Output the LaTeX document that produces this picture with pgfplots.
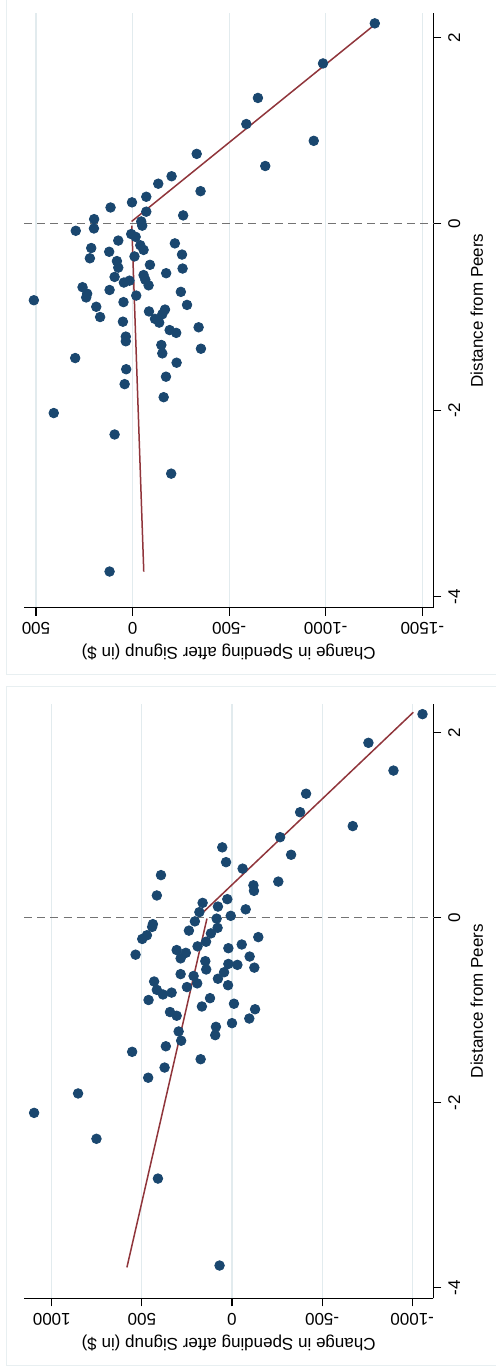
\documentclass[border=0pt]{standalone}
\usepackage{fontspec}
\setmainfont{Liberation Sans}
\usepackage{pgfplots}
\pgfplotsset{compat=1.18}
\definecolor{stnavy}{RGB}{26,71,111}
\definecolor{stmaroon}{RGB}{144,53,59}
\definecolor{stgrid}{RGB}{226,235,238}
\definecolor{stframe}{RGB}{232,239,241}
\pgfplotsset{
  panel/.style={
    scale only axis, width=204.65pt, height=297.2pt,
    x dir=reverse,
    axis x line*=bottom, axis y line*=right,
    axis line style={black, line width=0.6pt},
    tick align=outside, major tick length=4pt,
    tick style={black, line width=0.6pt},
    ytick={-4,-2,0,2},
    xmajorgrids, grid style={stgrid, line width=0.6pt},
    /pgf/number format/assume math mode=true,
    /pgf/number format/1000 sep={},
    tick label style={font=\fontsize{8.5}{10}\selectfont},
    label style={font=\fontsize{8.5}{10}\selectfont},
    xticklabel style={rotate=180, anchor=south},
    yticklabel style={rotate=90, anchor=north},
    xlabel={Change in Spending after Signup (in \$)},
    ylabel={Distance from Peers},
    xlabel style={rotate=180, anchor=south, inner sep=1pt},
    ylabel style={inner sep=1.5pt},
    anchor=center,
    clip=false,
  },
  dots/.style={only marks, mark=*, mark size=2.4pt, color=stnavy, mark options={draw=stnavy, fill=stnavy}},
  fit/.style={stmaroon, line width=0.75pt, no marks},
  zero/.style={black!55, line width=0.7pt, dash pattern=on 4pt off 2.6pt, no marks},
}
\begin{document}
\begin{tikzpicture}
\useasboundingbox (0,0) rectangle (247.5pt,-684.5pt);
\fill[white] (0,0) rectangle (247.5pt,-684.5pt);
\draw[stframe, line width=0.65pt] (3.35pt,0) -- (3.35pt,-337.15pt) -- (248pt,-337.15pt);
\draw[stframe, line width=0.65pt] (248pt,-343.35pt) -- (3.35pt,-343.35pt) -- (3.35pt,-682.85pt) -- (248pt,-682.85pt);

% top panel
\begin{axis}[panel, at={(114.33pt,-155.25pt)},
  xmin=-1557, xmax=562, ymin=-4.118, ymax=2.258,
  xtick={500,0,-500,-1000,-1500}, xticklabels={500,0,-500,-1000,-1500}]
\addplot[zero] coordinates {(562,0) (-1557,0)};
\addplot[dots] coordinates {
(-1254,2.15) (-986,1.72) (-649,1.35) (-589,1.07) (-938,0.89) (-687,0.62)
(-332,0.75) (-202,0.51) (-133,0.43) (-352,0.35) (-71,0.29) (3,0.23)
(114,0.175) (-71,0.13) (-262,0.09) (199,0.05) (-45,0.025) (-50,-0.02)
(294,-0.075) (200,-0.05) (7,-0.11) (-16,-0.14) (74,-0.18) (-219,-0.21)
(214,-0.26) (-40,-0.23) (-57,-0.28) (121,-0.30) (-256,-0.33) (221,-0.37)
(-10,-0.35) (81,-0.40) (-90,-0.44) (74,-0.47) (-259,-0.48) (-174,-0.53)
(93,-0.57) (-57,-0.55) (-66,-0.60) (45,-0.63) (16,-0.61) (-83,-0.66)
(259,-0.68) (119,-0.71) (-250,-0.73) (235,-0.75) (-19,-0.77) (240,-0.79)
(511,-0.82) (47,-0.84) (-282,-0.87) (188,-0.89) (-85,-0.94) (-168,-0.92)
(-154,-0.97) (168,-1.00) (-116,-1.02) (50,-1.05) (-138,-1.06) (-342,-1.11)
(-192,-1.14) (-226,-1.17) (35,-1.21) (35,-1.26) (-149,-1.30) (-154,-1.39)
(-354,-1.34) (297,-1.44) (-228,-1.49) (33,-1.56) (-173,-1.64) (41,-1.72)
(-161,-1.86) (408,-2.03) (93,-2.26) (-200,-2.68) (119,-3.73)
};
\addplot[fit] coordinates {(-58,-3.73) (4,-0.02)};
\addplot[fit] coordinates {(5,0.025) (-1262,2.15)};
\end{axis}

% bottom panel
\begin{axis}[panel, at={(114.33pt,-500.58pt)},
  xmin=-1117, xmax=1154, ymin=-4.115, ymax=2.31,
  xtick={1000,500,0,-500,-1000}, xticklabels={1000,500,0,-500,-1000}]
\addplot[zero] coordinates {(1154,0) (-1117,0)};
\addplot[dots] coordinates {
(-1057,2.20) (-757,1.89) (-896,1.59) (-411,1.34) (-378,1.14) (-670,0.99)
(-267,0.87) (-328,0.68) (54,0.76) (33,0.60) (-59,0.53) (-257,0.39)
(-119,0.35) (-122,0.29) (394,0.46) (417,0.24) (26,0.20) (163,0.16)
(78,0.12) (-76,0.09) (181,0.06) (7,0.02) (85,-0.01) (206,-0.04)
(439,-0.07) (443,-0.10) (80,-0.11) (239,-0.14) (117,-0.17) (-146,-0.21)
(472,-0.19) (498,-0.23) (144,-0.26) (191,-0.31) (20,-0.33) (-54,-0.29)
(535,-0.40) (307,-0.35) (256,-0.38) (285,-0.44) (-98,-0.42) (148,-0.47)
(20,-0.50) (-124,-0.54) (-30,-0.51) (143,-0.56) (44,-0.59) (285,-0.61)
(213,-0.63) (78,-0.66) (432,-0.69) (193,-0.71) (22,-0.73) (250,-0.75)
(417,-0.78) (383,-0.83) (335,-0.81) (122,-0.87) (463,-0.89) (-11,-0.93)
(-128,-0.99) (167,-0.96) (344,-1.02) (307,-1.06) (-96,-1.09) (0,-1.14)
(89,-1.18) (93,-1.27) (296,-1.23) (282,-1.33) (554,-1.45) (367,-1.39)
(174,-1.53) (374,-1.62) (465,-1.73) (854,-1.90) (1098,-2.11) (752,-2.39)
(411,-2.82) (69,-3.76)
};
\addplot[fit] coordinates {(583,-3.78) (139,-0.01)};
\addplot[fit] coordinates {(181,0.02) (-1006,2.22)};
\end{axis}
\end{tikzpicture}
\end{document}
